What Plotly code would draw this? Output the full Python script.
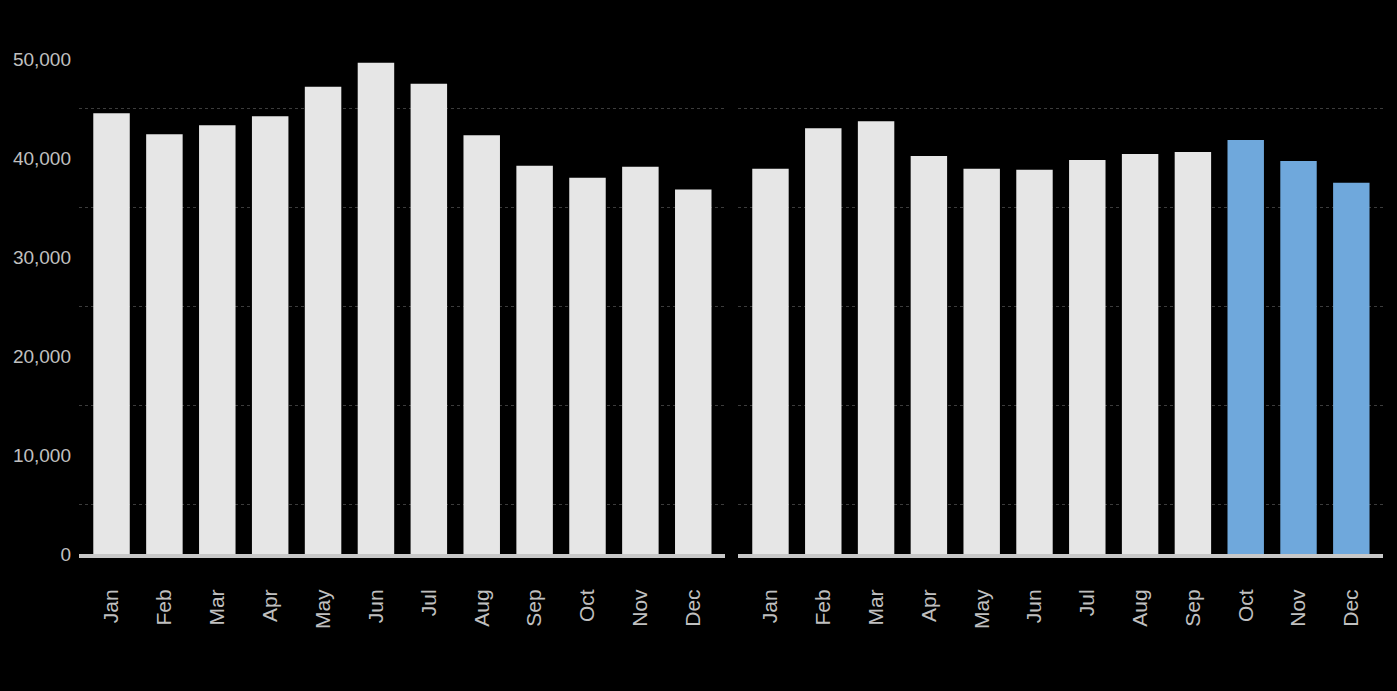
import plotly.graph_objects as go

months = ["Jan", "Feb", "Mar", "Apr", "May", "Jun", "Jul", "Aug", "Sep", "Oct", "Nov", "Dec"]
year1_values = [44500, 42400, 43300, 44200, 47200, 49600, 47500, 42300, 39200, 38000, 39100, 36800]
year2_values = [38900, 43000, 43700, 40200, 38900, 38800, 39800, 40400, 40600, 41800, 39700, 37500]
year2_highlight = [False] * 9 + [True] * 3

GRAY = "#e6e6e6"
BLUE = "#6fa8dc"
LABEL = "#c0c0c0"

W, H = 1397, 691

fig = go.Figure()
fig.add_trace(go.Bar(x=list(range(12)), y=year1_values, marker_color=GRAY,
                     marker_line_width=0, xaxis="x", yaxis="y", showlegend=False))
fig.add_trace(go.Bar(x=list(range(12)), y=year2_values,
                     marker_color=[BLUE if h else GRAY for h in year2_highlight],
                     marker_line_width=0, xaxis="x2", yaxis="y2", showlegend=False))

xcommon = dict(
    tickmode="array", tickvals=list(range(12)), ticktext=months,
    tickangle=-90, tickfont=dict(family="Liberation Sans, Arial", size=21, color=LABEL),
    showgrid=False, zeroline=False, showline=True, linecolor="#c8c8c8", linewidth=4,
    ticks="", ticklabelstandoff=23, range=[-0.615, 11.6], fixedrange=True,
)
ycommon = dict(
    range=[0, 51000], showgrid=False, zeroline=False, showline=False,
    minor=dict(tick0=5000, dtick=10000, showgrid=True, gridcolor="#3c3c3c",
               griddash="dot", gridwidth=1),
    fixedrange=True,
)

fig.update_layout(
    width=W, height=H,
    paper_bgcolor="black", plot_bgcolor="black",
    margin=dict(l=0, r=0, t=49, b=137),
    bargap=0.31,
    hovermode=False,
    xaxis=dict(domain=[79 / W, 725 / W], anchor="y", **xcommon),
    xaxis2=dict(domain=[738 / W, 1383 / W], anchor="y2", **xcommon),
    yaxis=dict(anchor="x", tickvals=[0, 10000, 20000, 30000, 40000, 50000],
               tickformat=",d", ticklabelstandoff=7,
               tickfont=dict(family="Liberation Sans, Arial", size=19, color=LABEL),
               automargin=False, **ycommon),
    yaxis2=dict(anchor="x2", showticklabels=False, **ycommon),
)

fig.write_html("out.html", config={"displayModeBar": False},
               post_script="document.body.style.margin='0';document.body.style.background='black';")
